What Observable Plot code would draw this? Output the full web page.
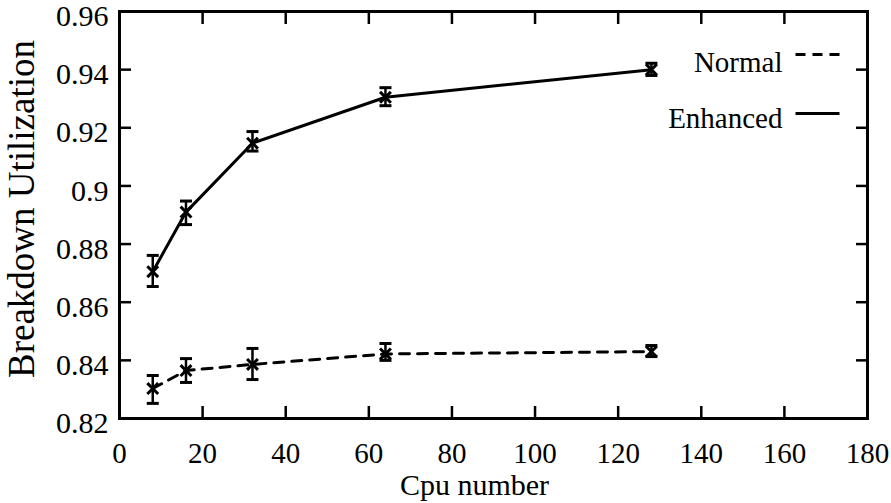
<!DOCTYPE html>
<html><head><meta charset="utf-8">
<script src="https://cdn.jsdelivr.net/npm/d3@7"></script>
<script src="https://cdn.jsdelivr.net/npm/@observablehq/plot@0.6"></script>
<style>body{margin:0;background:#fff}</style>
</head><body><div id="chart"></div>
<script>
const cpus = [8, 16, 32, 64, 128];
const normalMean = [0.8303, 0.8365, 0.8386, 0.8422, 0.8430];
const normalLo   = [0.8252, 0.8324, 0.8334, 0.8400, 0.8413];
const normalHi   = [0.8348, 0.8406, 0.8441, 0.8458, 0.8451];
const enhancedMean = [0.8705, 0.8910, 0.9147, 0.9305, 0.9400];
const enhancedLo   = [0.8654, 0.8867, 0.9120, 0.9276, 0.9380];
const enhancedHi   = [0.8761, 0.8948, 0.9187, 0.9338, 0.9422];
const seriesNames = ["Normal", "Enhanced"];
const xTicks = [0, 20, 40, 60, 80, 100, 120, 140, 160, 180];
const xTickLabels = ["0", "20", "40", "60", "80", "100", "120", "140", "160", "180"];
const yTicks = [0.82, 0.84, 0.86, 0.88, 0.9, 0.92, 0.94, 0.96];
const yTickLabels = ["0.82", "0.84", "0.86", "0.88", "0.9", "0.92", "0.94", "0.96"];
const xTitle = "Cpu number";
const yTitle = "Breakdown Utilization";

function rowsFor(name, mean, lo, hi) {
  return cpus.map((c, i) => ({series: name, cpu: c, mean: mean[i], lo: lo[i], hi: hi[i]}));
}
const normal = rowsFor(seriesNames[0], normalMean, normalLo, normalHi);
const enhanced = rowsFor(seriesNames[1], enhancedMean, enhancedLo, enhancedHi);
const all = normal.concat(enhanced);

const capSymbol = {draw(ctx) { ctx.moveTo(-6, 0); ctx.lineTo(6, 0); }};
const sampleSymbol = {draw(ctx) { ctx.moveTo(-22, 0); ctx.lineTo(22, 0); }};
const fmt = (ticks, labels) => d => labels[ticks.findIndex(t => Math.abs(t - d) < 1e-9)];
const blank = () => "";

const chart = Plot.plot({
  width: 891, height: 503,
  marginLeft: 119, marginRight: 24, marginTop: 11, marginBottom: 85,
  style: {fontFamily: "'Liberation Serif', 'Times New Roman', serif", fontSize: "29px", background: "#fff", color: "#000"},
  x: {domain: [0, 180]},
  y: {domain: [0.82, 0.96]},
  marks: [
    Plot.axisX({anchor: "bottom", ticks: xTicks, tickSize: -12, tickPadding: 36, tickFormat: fmt(xTicks, xTickLabels), label: null, strokeWidth: 2.5, fontSize: 29}),
    Plot.axisX({anchor: "top", ticks: xTicks, tickSize: -12, tickFormat: blank, label: null, strokeWidth: 2.5}),
    Plot.axisY({anchor: "left", ticks: yTicks, tickSize: -12, tickFormat: blank, label: null, strokeWidth: 2.5}),
    Plot.axisY({anchor: "left", ticks: yTicks, tickSize: 0, tickPadding: 11, dy: 5, tickFormat: fmt(yTicks, yTickLabels), label: null, fontSize: 30}),
    Plot.axisY({anchor: "right", ticks: yTicks, tickSize: -12, tickFormat: blank, label: null, strokeWidth: 2.5}),
    Plot.frame({stroke: "#000", strokeWidth: 3}),
    Plot.line(normal, {x: "cpu", y: "mean", stroke: "#000", strokeWidth: 3, strokeDasharray: "10,8"}),
    Plot.line(enhanced, {x: "cpu", y: "mean", stroke: "#000", strokeWidth: 3}),
    Plot.ruleX(all, {x: "cpu", y1: "lo", y2: "hi", stroke: "#000", strokeWidth: 2.5}),
    Plot.dot(all, {x: "cpu", y: "lo", symbol: capSymbol, stroke: "#000", fill: "none", strokeWidth: 3}),
    Plot.dot(all, {x: "cpu", y: "hi", symbol: capSymbol, stroke: "#000", fill: "none", strokeWidth: 3}),
    Plot.dot(all, {x: "cpu", y: "mean", symbol: "times", r: 5, stroke: "#000", strokeWidth: 3}),
    Plot.text([seriesNames[0]], {frameAnchor: "top-right", text: d => d, textAnchor: "end", lineAnchor: "middle", dx: -85, dy: 51, fill: "#000", fontSize: 29}),
    Plot.text([seriesNames[1]], {frameAnchor: "top-right", text: d => d, textAnchor: "end", lineAnchor: "middle", dx: -85, dy: 107, fill: "#000", fontSize: 29}),
    Plot.dot([seriesNames[0]], {frameAnchor: "top-right", symbol: sampleSymbol, dx: -50, dy: 43, stroke: "#000", fill: "none", strokeWidth: 3, strokeDasharray: "10,7"}),
    Plot.dot([seriesNames[1]], {frameAnchor: "top-right", symbol: sampleSymbol, dx: -50, dy: 102, stroke: "#000", fill: "none", strokeWidth: 3}),
    Plot.text([xTitle], {frameAnchor: "bottom", text: d => d, lineAnchor: "middle", dx: -19, dy: 67, fill: "#000", fontSize: 30}),
    Plot.text([yTitle], {frameAnchor: "left", text: d => d, textAnchor: "middle", lineAnchor: "middle", rotate: -90, dx: -97, dy: -6, fill: "#000", fontSize: 37})
  ]
});
document.getElementById("chart").appendChild(chart);
</script>
</body></html>
